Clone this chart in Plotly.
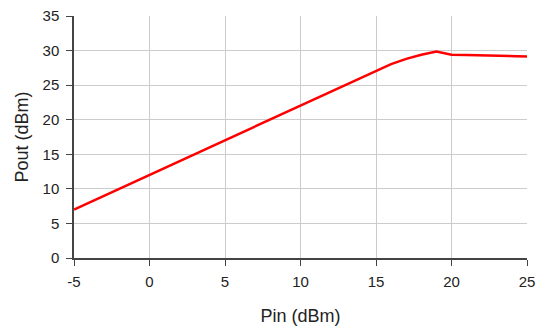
import plotly.graph_objects as go

pin = [-5, -4, -3, -2, -1, 0, 1, 2, 3, 4, 5, 6, 7, 8, 9, 10, 11, 12, 13, 14, 15,
       16, 17, 18, 19, 20, 21, 22, 23, 24, 25]
pout = [7.0, 8.0, 9.0, 10.0, 11.0, 12.0, 13.0, 14.0, 15.0, 16.0, 17.0,
        18.05, 19.05, 20.05, 21.05, 22.05, 23.05, 24.05, 25.1, 26.1, 27.1,
        28.05, 28.8, 29.4, 29.85, 29.4, 29.35, 29.3, 29.25, 29.2, 29.15]

x_ticks = [-5, 0, 5, 10, 15, 20, 25]
x_labels = ["-5", "0", "5", "10", "15", "20", "25"]
y_ticks = [0, 5, 10, 15, 20, 25, 30, 35]
x_grid = [0, 5, 10, 15, 20]
y_grid = [5, 10, 15, 20, 25, 30]

fig = go.Figure()
fig.add_trace(go.Scatter(x=pin, y=pout, mode="lines",
                         line=dict(color="#ff0000", width=2.5), hoverinfo="skip",
                         cliponaxis=False))

tick_font = dict(family="Liberation Sans, Arial, sans-serif", size=15, color="#222222")
title_font = dict(family="Liberation Sans, Arial, sans-serif", size=18, color="#222222")

common = dict(showgrid=False, zeroline=False, showline=True, linecolor="#444444",
              linewidth=1.5, ticks="outside", ticklen=6, tickcolor="#444444",
              tickwidth=1.2, tickfont=tick_font, automargin=False)

fig.update_layout(
    width=537, height=326,
    margin=dict(l=74, r=10, t=16, b=68),
    paper_bgcolor="white", plot_bgcolor="white",
    showlegend=False,
    xaxis=dict(range=[-5, 25], tickvals=x_ticks, ticktext=x_labels,
               ticklabelstandoff=3,
               minor=dict(tickmode="array", tickvals=x_grid, showgrid=True,
                          gridcolor="#cccccc", gridwidth=1, ticks=""),
               title=dict(text="Pin (dBm)", font=title_font, standoff=26),
               **common),
    yaxis=dict(range=[0, 35], tickvals=y_ticks, ticklabelstandoff=4,
               minor=dict(tickmode="array", tickvals=y_grid, showgrid=True,
                          gridcolor="#cccccc", gridwidth=1, ticks=""),
               title=dict(text="Pout (dBm)", font=title_font, standoff=9),
               **common),
)

fig.write_html("out.html")
